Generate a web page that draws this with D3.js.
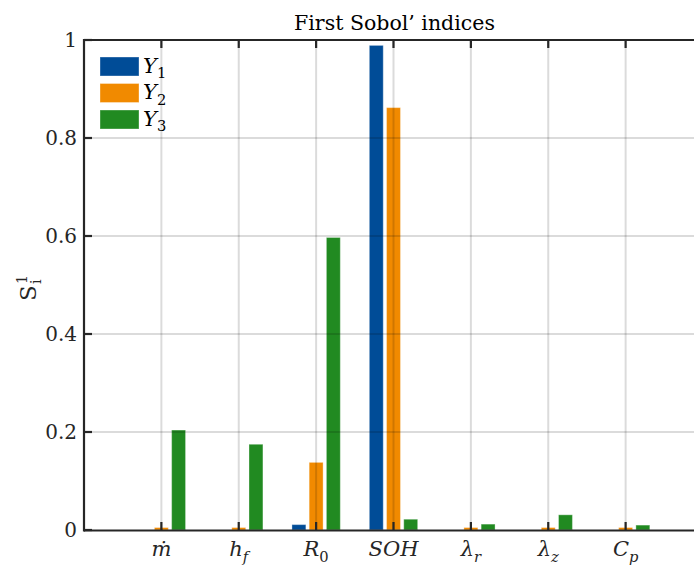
<!DOCTYPE html>
<html><head><meta charset="utf-8">
<script src="https://cdn.jsdelivr.net/npm/d3@7"></script>
<style>body{margin:0;background:#fff;} svg{display:block;}</style>
</head><body>
<svg id="c" width="694" height="567"></svg>
<script>
const categories = ["ṁ","h_f","R_0","SOH","λ_r","λ_z","C_p"];
const seriesNames = ["Y_1","Y_2","Y_3"];
const y1 = [0, 0, 0.011, 0.989, 0, 0, 0];
const y2 = [0.005, 0.005, 0.138, 0.862, 0.005, 0.005, 0.005];
const y3 = [0.204, 0.175, 0.597, 0.022, 0.012, 0.031, 0.010];
const yTicks = [0, 0.2, 0.4, 0.6, 0.8, 1];
const yTickLabels = ["0","0.2","0.4","0.6","0.8","1"];
const colors = ["#004c97", "#f18a00", "#218a21"];
const title = "First Sobol’ indices";

const series = [y1, y2, y3];
const svg = d3.select("#c");
const FONT = '"DejaVu Serif",serif';
const L = 84, R = 703, T = 40, B = 530;
const x = d3.scaleLinear().domain([0, 8]).range([L, R]);
const y = d3.scaleLinear().domain([0, 1]).range([B, T]);
const barOff = 0.2225, barW = 0.18;

function mathText(sel, s, size, italic) {
  const parts = s.split("_");
  sel.append("tspan").attr("font-style", italic ? "italic" : "normal").attr("font-size", size).text(parts[0]);
  if (parts[1] !== undefined) {
    const sub = /^[0-9]$/.test(parts[1]);
    sel.append("tspan").attr("font-style", sub ? "normal" : "italic")
      .attr("font-size", size * 0.7).attr("dy", size * 0.28).text(parts[1]);
  }
}

series.forEach((vals, s) => {
  svg.append("g").selectAll("rect").data(vals).join("rect")
    .attr("x", (d, i) => x(i + 1 + (s - 1) * barOff - barW / 2))
    .attr("width", x(barW) - x(0))
    .attr("y", d => y(d))
    .attr("height", d => y(0) - y(d))
    .attr("fill", colors[s])
    .attr("stroke", "rgba(255,255,255,0.35)").attr("stroke-width", 1);
});

const grid = svg.append("g").attr("stroke", "#000").attr("stroke-opacity", 0.14).attr("stroke-width", 2);
grid.selectAll(".v").data(categories).join("line")
  .attr("x1", (d, i) => x(i + 1)).attr("x2", (d, i) => x(i + 1))
  .attr("y1", T).attr("y2", B);
grid.selectAll(".h").data(yTicks.filter(t => t > 0 && t < 1)).join("line")
  .attr("x1", L).attr("x2", R).attr("y1", d => y(d)).attr("y2", d => y(d));

const ax = svg.append("g").attr("stroke", "#262626").attr("stroke-width", 2.2).attr("fill", "none");
ax.append("line").attr("x1", L).attr("x2", R).attr("y1", B + 0.5).attr("y2", B + 0.5);
ax.append("line").attr("x1", L).attr("x2", R).attr("y1", T).attr("y2", T);
ax.append("line").attr("x1", L).attr("x2", L).attr("y1", T - 1.1).attr("y2", B + 1.6);
categories.forEach((c, i) => {
  ax.append("line").attr("x1", x(i + 1)).attr("x2", x(i + 1)).attr("y1", B).attr("y2", B - 8);
  ax.append("line").attr("x1", x(i + 1)).attr("x2", x(i + 1)).attr("y1", T).attr("y2", T + 8);
});
yTicks.forEach(t => {
  ax.append("line").attr("x1", L).attr("x2", L + 8).attr("y1", y(t)).attr("y2", y(t));
});

svg.append("g").selectAll("text").data(yTicks).join("text")
  .attr("font-family", FONT)
  .attr("x", L - 7).attr("y", d => y(d)).attr("dy", "0.36em")
  .attr("text-anchor", "end").attr("font-size", 20).attr("fill", "#262626")
  .text((d, i) => yTickLabels[i]);

categories.forEach((c, i) => {
  const t = svg.append("text").attr("font-family", FONT).attr("x", x(i + 1)).attr("y", 556)
    .attr("text-anchor", "middle").attr("fill", "#262626");
  mathText(t, c, 21, true);
});

svg.append("text").attr("font-family", FONT).attr("x", (L + R) / 2 + 1).attr("y", 30).attr("text-anchor", "middle")
  .attr("font-size", 20.5).attr("fill", "#000").text(title);

const yl = svg.append("g").attr("transform", `translate(36,${(T + B) / 2 + 2}) rotate(-90)`).attr("fill", "#262626");
yl.append("text").attr("font-family", FONT).attr("x", -6).attr("y", 0).attr("text-anchor", "middle").attr("font-size", 23).text("S");
yl.append("text").attr("font-family", FONT).attr("x", 3).attr("y", -9).attr("font-size", 14).text("1");
yl.append("text").attr("font-family", FONT).attr("x", 3).attr("y", 5).attr("font-size", 14).text("i");

const lg = svg.append("g");
seriesNames.forEach((n, s) => {
  const cy = 66.5 + s * 26.5;
  lg.append("rect").attr("x", 100).attr("y", cy - 9.5).attr("width", 39).attr("height", 19)
    .attr("fill", colors[s]).attr("stroke", "rgba(255,255,255,0.35)");
  const t = lg.append("text").attr("font-family", FONT).attr("x", 143).attr("y", cy + 6).attr("fill", "#000");
  mathText(t, n, 21, true);
});
</script>
</body></html>
